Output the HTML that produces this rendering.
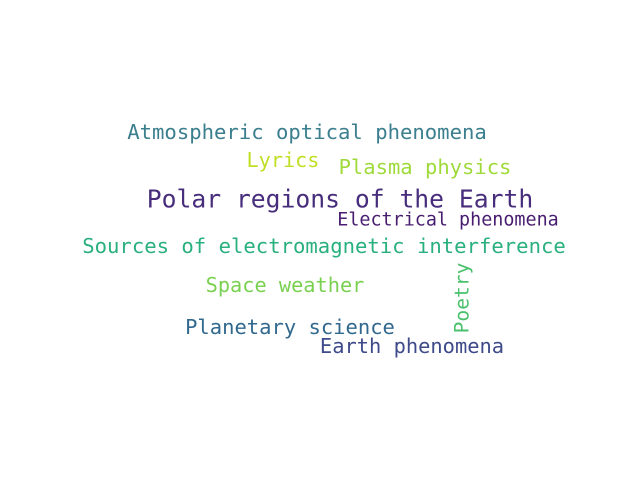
<!DOCTYPE html>
<html><head><meta charset="utf-8"><style>
html,body{margin:0;padding:0;background:#fff;}
svg text{font-family:"DejaVu Sans Mono","Liberation Mono",monospace;}
</style></head><body>
<svg width="640" height="480" viewBox="0 0 640 480">
<rect width="640" height="480" fill="#fff"/>
<g id="words"></g>
</svg>
<script>
const words = ["Atmospheric optical phenomena","Lyrics","Plasma physics","Polar regions of the Earth","Electrical phenomena","Sources of electromagnetic interference","Space weather","Planetary science","Earth phenomena","Poetry"];
const sizes = [20.6,20.2,20.5,24.7,18.4,20.6,20.3,20.5,20.4,19.6];
const colors = ["#3b7f8e","#c0df25","#9fda3a","#472d7b","#481d6f","#2ab07f","#7ad151","#31688e","#3e4a89","#4ac16d"];
const cx = [307,283,425,340,448,324,285,290,412,462];
const cy = [132,160,167,199,220,246,285,327,346,298];
const rot = [0,0,0,0,0,0,0,0,0,-90];
const g = document.getElementById('words');
words.forEach((w,i)=>{
  const t = document.createElementNS('http://www.w3.org/2000/svg','text');
  t.setAttribute('x',cx[i]);
  t.setAttribute('y',cy[i]);
  t.setAttribute('text-anchor','middle');
  t.setAttribute('dominant-baseline','central');
  t.setAttribute('font-size',sizes[i]);
  t.setAttribute('fill',colors[i]);
  if(rot[i]) t.setAttribute('transform','rotate('+rot[i]+' '+cx[i]+' '+cy[i]+')');
  t.textContent = w;
  
  
  g.appendChild(t);
});
</script>
</body></html>
